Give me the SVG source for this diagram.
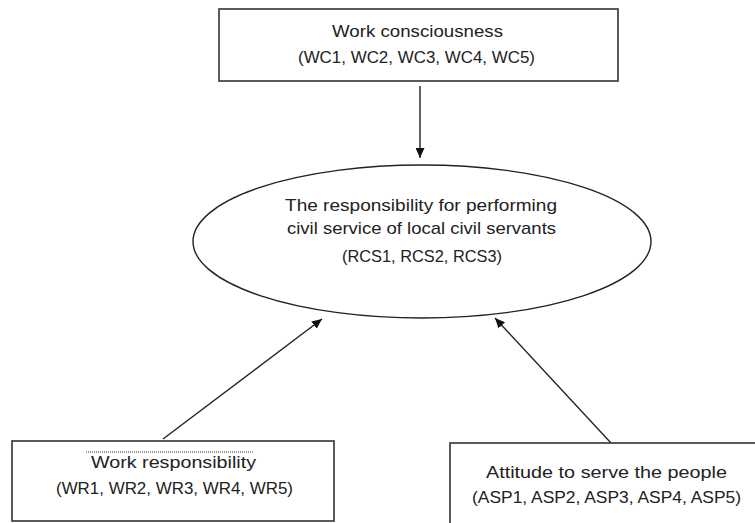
<svg xmlns="http://www.w3.org/2000/svg" width="755" height="523" viewBox="0 0 755 523">
<defs>
<style>
.box{fill:#fff;stroke:#333;stroke-width:1.6}
.ell{fill:#fff;stroke:#222;stroke-width:1.4}
.t{font-family:"Liberation Sans",Arial,sans-serif;font-size:17px;fill:#222;text-anchor:middle}
.con{stroke:#222;stroke-width:1.4;fill:none;marker-end:url(#ah)}
</style>
<marker id="ah" markerUnits="userSpaceOnUse" markerWidth="11" markerHeight="9" refX="10" refY="4.5" orient="auto">
<path d="M0,0 L10,4.5 L0,9 z" fill="#111"/>
</marker>
</defs>
<rect width="755" height="523" fill="#fff"/>
<g id="connectors">
<line class="con" x1="420" y1="86" x2="420" y2="158"/>
<line class="con" x1="163" y1="439" x2="322" y2="319"/>
<line class="con" x1="611" y1="443" x2="495" y2="318"/>
</g>
<g id="work-consciousness">
<rect class="box" x="219" y="9" width="399" height="72"/>
<text class="t" x="417.5" y="37" textLength="171" lengthAdjust="spacingAndGlyphs">Work consciousness</text>
<text class="t" x="416.5" y="63" textLength="237" lengthAdjust="spacingAndGlyphs">(WC1, WC2, WC3, WC4, WC5)</text>
</g>
<g id="responsibility">
<ellipse class="ell" cx="422" cy="241.5" rx="229" ry="76.5"/>
<text class="t" x="421" y="211" textLength="272" lengthAdjust="spacingAndGlyphs">The responsibility for performing</text>
<text class="t" x="421.5" y="234" textLength="269" lengthAdjust="spacingAndGlyphs">civil service of local civil servants</text>
<text class="t" x="422" y="262" textLength="160" lengthAdjust="spacingAndGlyphs">(RCS1, RCS2, RCS3)</text>
</g>
<g id="work-responsibility">
<rect class="box" x="12" y="441" width="322" height="80"/>
<line x1="86" y1="452" x2="253" y2="452" stroke="#333" stroke-width="1" stroke-dasharray="1,1"/>
<text class="t" x="173.5" y="468" textLength="165" lengthAdjust="spacingAndGlyphs">Work responsibility</text>
<text class="t" x="174.5" y="494" textLength="237" lengthAdjust="spacingAndGlyphs">(WR1, WR2, WR3, WR4, WR5)</text>
</g>
<g id="attitude">
<rect class="box" x="450" y="443" width="330" height="100"/>
<text class="t" x="606.5" y="478" textLength="241" lengthAdjust="spacingAndGlyphs">Attitude to serve the people</text>
<text class="t" x="606.5" y="503" textLength="269" lengthAdjust="spacingAndGlyphs">(ASP1, ASP2, ASP3, ASP4, ASP5)</text>
</g>
</svg>
